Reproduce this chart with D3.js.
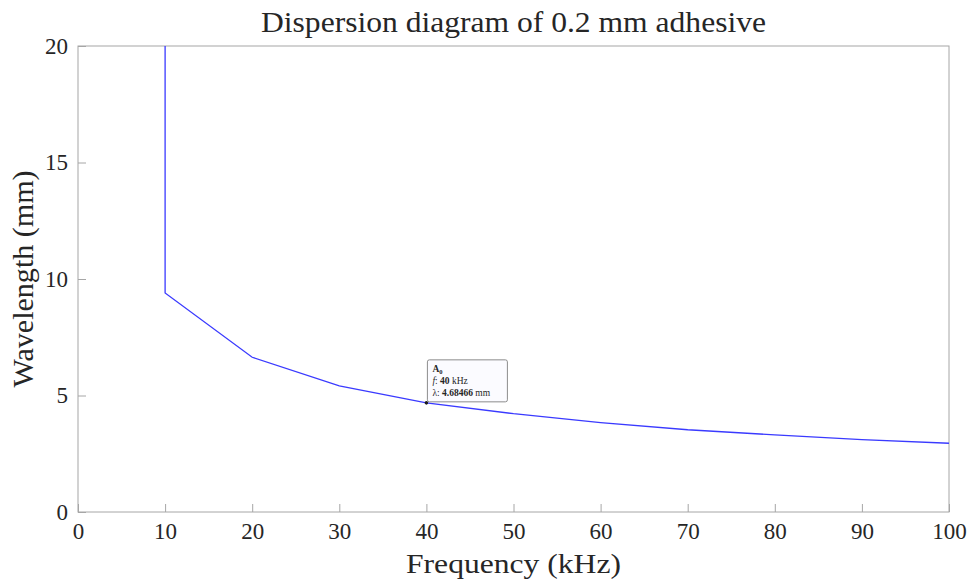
<!DOCTYPE html>
<html>
<head>
<meta charset="utf-8">
<script src="https://cdn.jsdelivr.net/npm/d3@7"></script>
<style>
  html, body { margin: 0; padding: 0; background: #fff; }
  svg { display: block; }
  text { font-family: "Liberation Serif", "DejaVu Serif", serif; fill: #262626; }
</style>
</head>
<body>
<svg id="chart" width="971" height="580"></svg>
<script>
// A0 mode dispersion: wavelength vs frequency for a 0.2 mm adhesive layer
const frequency = [10, 10, 20, 30, 40, 50, 60, 70, 80, 90, 100];          // kHz
const wavelength = [20, 9.40, 6.64, 5.41, 4.68466, 4.22, 3.84, 3.53, 3.31, 3.11, 2.95]; // mm

const xTicks = [0, 10, 20, 30, 40, 50, 60, 70, 80, 90, 100];
const yTicks = [0, 5, 10, 15, 20];

// Highlighted data tip
const tipMode = "A";
const tipFreq = 40;
const tipLambda = 4.68466;

const svg = d3.select("#chart");
const margin = { left: 78, right: 22, top: 46, bottom: 68 };
const W = 971, H = 580;

const x = d3.scaleLinear().domain([0, 100]).range([margin.left, W - margin.right]);
const y = d3.scaleLinear().domain([0, 20]).range([H - margin.bottom, margin.top]);

const axisColor = "#a6a6a6";
const tickLen = 8;

// Axes box
svg.append("rect")
  .attr("x", x(0)).attr("y", y(20))
  .attr("width", x(100) - x(0)).attr("height", y(0) - y(20))
  .attr("fill", "none").attr("stroke", axisColor).attr("stroke-width", 1);

// Bottom axis (ticks pointing inward)
const xAxis = d3.axisBottom(x).tickValues(xTicks).tickSizeInner(-tickLen).tickSizeOuter(0).tickPadding(11);
const gx = svg.append("g").attr("transform", `translate(0,${y(0)})`).call(xAxis);
gx.select(".domain").remove();
gx.selectAll(".tick line").attr("stroke", axisColor);
gx.selectAll(".tick text").attr("font-size", 23).attr("fill", "#262626")
  .style("font-family", "Liberation Serif, serif");

// Left axis
const yAxis = d3.axisLeft(y).tickValues(yTicks).tickSizeInner(-tickLen).tickSizeOuter(0).tickPadding(10);
const gy = svg.append("g").attr("transform", `translate(${x(0)},0)`).call(yAxis);
gy.select(".domain").remove();
gy.selectAll(".tick line").attr("stroke", axisColor);
gy.selectAll(".tick text").attr("font-size", 23).attr("fill", "#262626")
  .style("font-family", "Liberation Serif, serif");

// Clip for the curve
svg.append("clipPath").attr("id", "plotclip")
  .append("rect")
  .attr("x", x(0)).attr("y", y(20))
  .attr("width", x(100) - x(0)).attr("height", y(0) - y(20));

const pts = frequency.map((f, i) => [f, wavelength[i]]);
const line = d3.line().x(d => x(d[0])).y(d => y(d[1]));

svg.append("path")
  .datum(pts)
  .attr("clip-path", "url(#plotclip)")
  .attr("d", line)
  .attr("fill", "none")
  .attr("stroke", "#3a3aff")
  .attr("stroke-width", 1.3);

// Data tip marker
svg.append("circle")
  .attr("cx", x(tipFreq)).attr("cy", y(tipLambda))
  .attr("r", 1.8).attr("fill", "#1a1a1a");

// Data tip box
const tipX = x(tipFreq) + 1, tipY = y(tipLambda) - 43;
const tip = svg.append("g").attr("transform", `translate(${tipX},${tipY})`);
tip.append("rect")
  .attr("width", 80).attr("height", 42).attr("rx", 2)
  .attr("fill", "#fbfbff").attr("stroke", "#8c8c8c").attr("stroke-width", 1);

const tipFont = 9.5;
const t1 = tip.append("text").attr("x", 5).attr("y", 12).attr("font-size", tipFont);
t1.append("tspan").attr("font-weight", "bold").text(tipMode);
t1.append("tspan").attr("font-size", 6.5).attr("dy", 2).attr("font-weight", "bold").text("0");

const t2 = tip.append("text").attr("x", 5).attr("y", 24).attr("font-size", tipFont);
t2.append("tspan").attr("font-style", "italic").text("f");
t2.append("tspan").text(": ");
t2.append("tspan").attr("font-weight", "bold").text(String(tipFreq));
t2.append("tspan").text(" kHz");

const t3 = tip.append("text").attr("x", 5).attr("y", 36).attr("font-size", tipFont);
t3.append("tspan").text("λ: ");
t3.append("tspan").attr("font-weight", "bold").text(String(tipLambda));
t3.append("tspan").text(" mm");

// Title and axis labels
svg.append("text")
  .attr("x", (x(0) + x(100)) / 2).attr("y", 32)
  .attr("text-anchor", "middle").attr("font-size", 29)
  .attr("textLength", 505).attr("lengthAdjust", "spacingAndGlyphs")
  .attr("fill", "#111")
  .text("Dispersion diagram of 0.2 mm adhesive");

svg.append("text")
  .attr("x", (x(0) + x(100)) / 2).attr("y", 573)
  .attr("text-anchor", "middle").attr("font-size", 28)
  .attr("textLength", 215).attr("lengthAdjust", "spacingAndGlyphs")
  .text("Frequency (kHz)");

svg.append("text")
  .attr("transform", `translate(33,${(y(0) + y(20)) / 2}) rotate(-90)`)
  .attr("text-anchor", "middle").attr("font-size", 29)
  .attr("textLength", 217).attr("lengthAdjust", "spacingAndGlyphs")
  .text("Wavelength (mm)");
</script>
</body>
</html>
